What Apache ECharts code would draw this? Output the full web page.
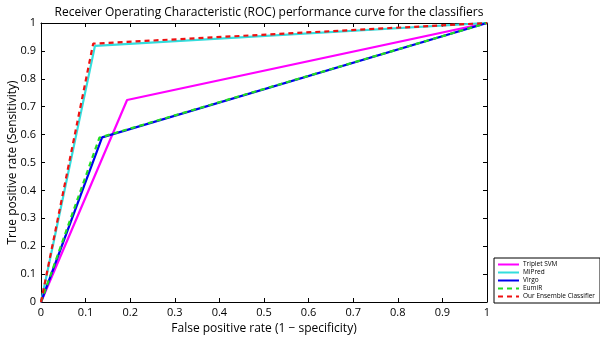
<!DOCTYPE html>
<html lang="en">
<head>
    <meta charset="UTF-8">
    <title>roc</title>
    <style>
        html, body { margin: 0; padding: 0; background: #fff; }
        #roc { width: 600px; height: 339px; }
    </style>
    <script src="https://cdn.jsdelivr.net/npm/echarts@6/dist/echarts.min.js"></script>
</head>
<body>
    <div id="roc"></div>
    <script>
        // ROC points: [fpr, tpr]
        var names = ['Triplet SVM', 'MiPred', 'Virgo', 'EumiR', 'Our Ensemble Classifier'];
        var tripletSvm = [[0, 0], [0.193, 0.724], [1, 1]];
        var miPred = [[0, 0], [0.121, 0.918], [1, 1]];
        var virgo = [[0, 0], [0.137, 0.59], [1, 1]];
        var eumiR = [[0, 0], [0.131, 0.589], [1, 1]];
        var ensemble = [[0, 0], [0.117, 0.926], [1, 1]];
        var colors = ['#ff00ff', '#33dddd', '#0000ee', '#22dd22', '#ee1111'];
        var dashes = ['solid', 'solid', 'solid', [5, 4], [5, 4]];
        var allData = [tripletSvm, miPred, virgo, eumiR, ensemble];

        var font = 'Open Sans';
        var myChart = echarts.init(document.getElementById('roc'));

        function axis(pos, showLabel, name) {
            return {
                type: 'value',
                position: pos,
                min: 0,
                max: 1,
                interval: 0.1,
                name: name,
                nameLocation: 'middle',
                nameGap: pos === 'left' ? 22 : 21,
                nameMoveOverlap: false,
                nameTextStyle: { color: '#000', fontSize: 12, fontFamily: font },
                axisLine: { onZero: false, lineStyle: { color: '#000', width: 1 } },
                axisTick: { show: true, inside: true, length: 4, lineStyle: { color: '#000' } },
                axisLabel: { show: showLabel, color: '#000', fontSize: 11, fontFamily: font, margin: 5 },
                splitLine: { show: false }
            };
        }

        var series = names.map(function (n, i) {
            return {
                name: n,
                type: 'line',
                data: allData[i],
                symbol: 'none',
                z: 2 + i,
                lineStyle: { color: colors[i], width: 2.2, type: dashes[i] },
                itemStyle: { color: colors[i] }
            };
        });

        var option = {
            animation: false,
            backgroundColor: '#fff',
            title: {
                text: 'Receiver Operating Characteristic (ROC) performance curve for the classifiers',
                left: 264,
                textAlign: 'center',
                top: 2,
                textStyle: { color: '#000', fontSize: 12, fontWeight: 'normal', fontFamily: font }
            },
            grid: { left: 41, right: 113, top: 23, bottom: 37, outerBoundsMode: 'none', containLabel: false },
            legend: {
                orient: 'vertical',
                left: 494,
                top: 258,
                padding: [3, 5, 3, 3],
                borderColor: '#000',
                borderWidth: 1,
                itemGap: 1,
                itemWidth: 21,
                itemHeight: 8,
                itemStyle: { opacity: 0 },
                textStyle: { color: '#000', fontSize: 6.5, fontFamily: font, padding: [0, 0, 0, -1] },
                data: names
            },
            xAxis: [axis('bottom', true, 'False positive rate (1 \u2212 specificity)'), axis('top', false, '')],
            yAxis: [axis('left', true, 'True positive rate (Sensitivity)'), axis('right', false, '')],
            series: series
        };
        myChart.setOption(option);
    </script>
</body>
</html>
